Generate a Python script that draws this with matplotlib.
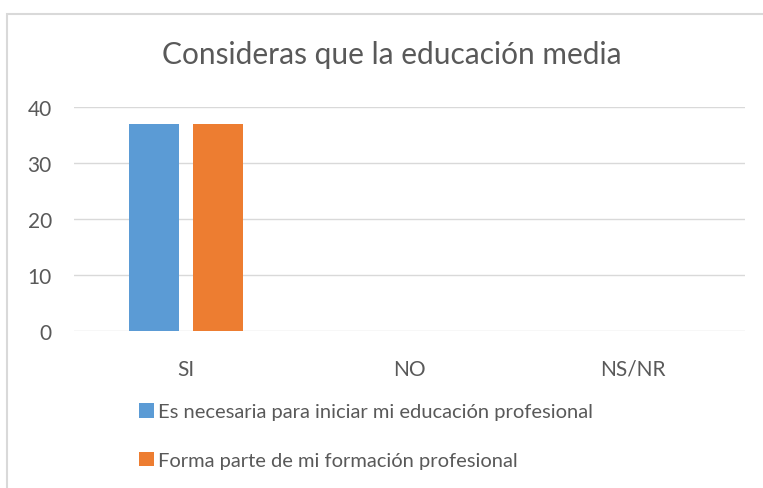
import numpy as np
import matplotlib
matplotlib.use("Agg")
import matplotlib.pyplot as plt
from matplotlib.patches import Rectangle

# data
categories = ["SI", "NO", "NS/NR"]
necesaria = [37, 0, 0]
formacion = [37, 0, 0]
series_names = ["Es necesaria para iniciar mi educación profesional",
                "Forma parte de mi formación profesional"]
y_ticks = [0, 10, 20, 30, 40]

plt.rcParams['font.family'] = ['Lato', 'DejaVu Sans']
text_col = "#595959"
grid_col = "#D9D9D9"

W, H = 763, 489
fig = plt.figure(figsize=(W / 100, H / 100), dpi=100)

# axes placed in pixel coordinates of the reference
ax_left, ax_right, ax_top, ax_bottom = 74, 745, 108, 332
ax = fig.add_axes([ax_left / W, 1 - ax_bottom / H,
                   (ax_right - ax_left) / W, (ax_bottom - ax_top) / H])

x = np.arange(len(categories))
width = 0.224
offset = 0.142
b1 = ax.bar(x - offset, necesaria, width, color="#5B9BD5", zorder=3)
b2 = ax.bar(x + offset, formacion, width, color="#ED7D31", zorder=3)

ax.set_xlim(-0.5, len(categories) - 0.5)
ax.set_ylim(0, 40)
ax.set_yticks(y_ticks)
ax.set_xticks(x)
ax.set_xticklabels(categories)
ax.yaxis.grid(True, color=grid_col, linewidth=1, zorder=0)
for s in ax.spines.values():
    s.set_visible(False)
ax.tick_params(axis="both", length=0, colors=text_col, labelsize=15)
ax.tick_params(axis="y", pad=16)
ax.tick_params(axis="x", pad=20)
ax.set_axisbelow(True)

fig.text(392 / W, 1 - 55 / H, "Consideras que la educación media",
         ha="center", va="center", fontsize=21.5, color=text_col)

leg = fig.legend([b1, b2], series_names, loc="upper left",
                 bbox_to_anchor=(139 / W, 1 - 404 / H), frameon=False,
                 fontsize=14.5, labelcolor=text_col, handlelength=0.75,
                 handleheight=0.75, handletextpad=0.2, labelspacing=1.55,
                 borderaxespad=0, borderpad=0)

# outer chart border (cut off at right and bottom as in the reference)
fig.patches.append(Rectangle((7 / W, -0.1), 1.2, 1 - 15 / H + 0.1,
                             transform=fig.transFigure, fill=False,
                             edgecolor=grid_col, linewidth=1.5))

fig.savefig("out.png", dpi=100)
